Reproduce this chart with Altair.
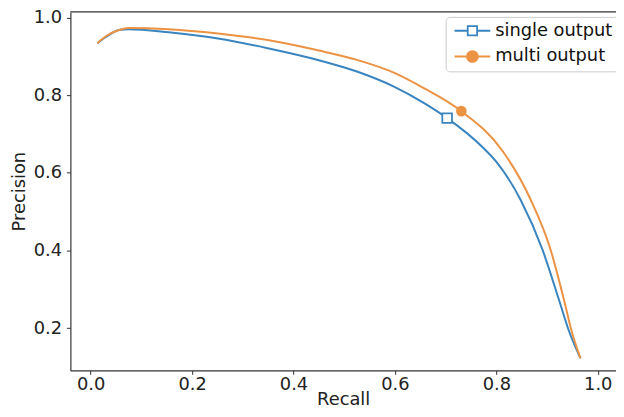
import altair as alt
import pandas as pd

series = ["single output", "multi output"]
colors = ["#3a84bf", "#ec9243"]

single_recall = [0.013, 0.03, 0.056, 0.075, 0.154, 0.251, 0.349, 0.45, 0.525, 0.6, 0.656, 0.703,
                 0.773, 0.799, 0.848, 0.891, 0.923, 0.944, 0.966]
single_precision = [0.934, 0.950, 0.968, 0.970, 0.962, 0.946, 0.921, 0.890, 0.861, 0.821, 0.781,
                    0.741, 0.666, 0.630, 0.530, 0.402, 0.275, 0.190, 0.122]

multi_recall = [0.013, 0.03, 0.056, 0.075, 0.154, 0.251, 0.349, 0.45, 0.525, 0.6, 0.656, 0.731,
                0.812, 0.868, 0.907, 0.933, 0.949, 0.966]
multi_precision = [0.934, 0.952, 0.968, 0.973, 0.970, 0.959, 0.942, 0.915, 0.891, 0.857, 0.819,
                   0.759, 0.657, 0.530, 0.402, 0.275, 0.190, 0.122]

marker_recall = [0.703, 0.731]
marker_precision = [0.741, 0.759]

x_ticks = [0.0, 0.2, 0.4, 0.6, 0.8, 1.0]
y_ticks = [0.2, 0.4, 0.6, 0.8, 1.0]

curves = pd.concat([
    pd.DataFrame({"series": series[0], "recall": single_recall, "precision": single_precision}),
    pd.DataFrame({"series": series[1], "recall": multi_recall, "precision": multi_precision}),
])
markers = pd.DataFrame({"series": series, "recall": marker_recall, "precision": marker_precision})

FONT = "DejaVu Sans"
W, H = 551, 362
xscale = alt.Scale(domain=[-0.04, 1.036], nice=False, zero=False)
yscale = alt.Scale(domain=[0.0911, 1.0145], nice=False, zero=False)
cscale = alt.Scale(domain=series, range=colors)

x_axis = alt.Axis(values=x_ticks, format=".1f", title="Recall", grid=False, tickSize=4,
                  labelPadding=10, labelBaseline="middle",
                  titleY=34, titleBaseline="alphabetic",
                  domainColor="#333333", tickColor="#333333")
y_axis = alt.Axis(values=y_ticks, format=".1f", title="Precision", grid=False, tickSize=4,
                  labelPadding=5, titleX=-46, titleBaseline="alphabetic",
                  domainColor="#333333", tickColor="#333333")

X = alt.X("recall:Q", scale=xscale, axis=x_axis)
Y = alt.Y("precision:Q", scale=yscale, axis=y_axis)


def curve(i):
    return alt.Chart(curves).transform_filter(alt.datum.series == series[i]).mark_line(
        strokeWidth=2, color=colors[i], interpolate="monotone"
    ).encode(x=X, y=Y)


sq = alt.Chart(markers).transform_filter(alt.datum.series == series[0]).mark_point(
    shape="square", filled=False, size=95, strokeWidth=1.8, color=colors[0], fill="white", opacity=1
).encode(x=X, y=Y)

circ = alt.Chart(markers).transform_filter(alt.datum.series == series[1]).mark_point(
    shape="circle", filled=True, size=115, color=colors[1], opacity=1
).encode(x=X, y=Y)

square_path = "M-1,0H1.65M3.55,0H6.2M1.65,-0.95H3.55V0.95H1.65Z"
circle_path = "M-1,0H1.5M3.7,0H6.2M3.7,0A1.1,1.1,0,1,1,1.5,0A1.1,1.1,0,1,1,3.7,0Z"

legend = alt.Legend(
    title=None, orient="none", legendX=379, legendY=5,
    labelFont=FONT, labelFontSize=18, labelColor="#111111",
    symbolSize=100, symbolStrokeWidth=1.8, symbolOpacity=1, labelOffset=27,
    padding=5, rowPadding=7, fillColor="white", strokeColor="#cccccc", cornerRadius=4,
)

legend_layer = alt.Chart(markers).mark_point(opacity=0, size=100, strokeWidth=1.8).encode(
    x=X, y=Y,
    color=alt.Color("series:N", scale=cscale, legend=legend),
    fill=alt.Fill("series:N", scale=alt.Scale(domain=series, range=["white", colors[1]]), legend=legend),
    shape=alt.Shape("series:N", scale=alt.Scale(domain=series, range=[square_path, circle_path]), legend=legend),
)

top_spine = alt.Chart(pd.DataFrame({"k": [0]})).mark_rule(color="#333333", strokeWidth=1.2).encode(
    x=alt.value(0), x2=alt.value(W), y=alt.value(0)
)

chart = alt.layer(curve(0), curve(1), sq, circ, legend_layer, top_spine).properties(
    width=W, height=H,
    autosize=alt.AutoSizeParams(type="none"),
    padding={"left": 63, "top": 2, "right": 0, "bottom": 37},
).configure_view(stroke=None).configure_axis(
    labelFont=FONT, titleFont=FONT, labelFontSize=18, titleFontSize=18,
    titleFontWeight="normal", labelColor="#222222", titleColor="#222222", domainWidth=1.2
)

chart.save("out.html", embed_options={"renderer": "svg", "actions": False})
